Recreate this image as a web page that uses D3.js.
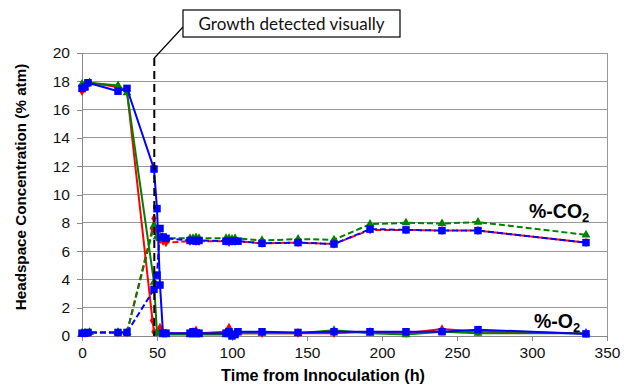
<!DOCTYPE html>
<html><head><meta charset="utf-8">
<script src="https://cdn.jsdelivr.net/npm/d3@7"></script>
<style>body{margin:0;background:#fff;}svg{display:block;}</style>
</head><body><div id="chart"></div>
<script>
// ---- data ----
const xTicks = [0, 50, 100, 150, 200, 250, 300, 350];
const yTicks = [0, 2, 4, 6, 8, 10, 12, 14, 16, 18, 20];

const redT   = [0, 2, 5, 24, 30, 47, 48, 50, 52, 54, 56, 72, 74, 76, 78, 96, 98, 100, 102, 120, 144, 168, 192, 216, 240, 264, 336];
const redO2  = [17.3, 17.5, 17.9, 17.6, 17.3, 1.1, 0.3, 0.3, 0.6, 0.2, 0.2, 0.2, 0.3, 0.4, 0.2, 0.3, 0.6, 0.2, 0.2, 0.2, 0.2, 0.2, 0.3, 0.2, 0.5, 0.3, 0.2];
const redCO2 = [0.2, 0.2, 0.25, 0.25, 0.25, 7.6, 8.3, 7.0, 6.8, 6.7, 6.6, 6.7, 6.8, 6.7, 6.7, 6.7, 6.6, 6.7, 6.7, 6.55, 6.6, 6.5, 7.5, 7.5, 7.45, 7.45, 6.6];

const greenT   = [0, 2, 5, 24, 30, 48, 50, 52, 54, 56, 72, 74, 76, 78, 96, 98, 100, 102, 120, 144, 168, 192, 216, 240, 264, 336];
const greenO2  = [17.8, 17.8, 17.9, 17.7, 17.2, 3.8, 0.2, 0.2, 0.1, 0.1, 0.1, 0.1, 0.1, 0.1, 0.1, 0.1, 0.1, 0.2, 0.2, 0.2, 0.4, 0.2, 0.1, 0.3, 0.2, 0.2];
const greenCO2 = [0.2, 0.2, 0.25, 0.25, 0.25, 7.8, 7.0, 6.9, 6.9, 6.9, 6.9, 6.9, 6.95, 6.9, 6.9, 6.9, 6.85, 6.9, 6.75, 6.85, 6.8, 7.9, 8.0, 7.95, 8.05, 7.15];

const blueT   = [0, 2, 4, 24, 30, 48, 50, 52, 54, 56, 72, 74, 76, 78, 96, 98, 100, 102, 104, 120, 144, 168, 192, 216, 240, 264, 336];
const blueO2  = [17.5, 17.6, 17.9, 17.3, 17.5, 11.8, 9.0, 3.6, 0.2, 0.2, 0.2, 0.3, 0.2, 0.2, 0.2, 0.3, 0.0, 0.1, 0.3, 0.3, 0.25, 0.3, 0.3, 0.3, 0.3, 0.45, 0.15];
const blueCO2 = [0.2, 0.2, 0.25, 0.25, 0.25, 3.3, 4.3, 7.6, 7.0, 6.9, 6.75, 6.75, 6.7, 6.75, 6.7, 6.7, 6.7, 6.7, 6.7, 6.55, 6.6, 6.5, 7.55, 7.5, 7.45, 7.45, 6.6];

const growthTime = 48.2;
const annotationText = "Growth detected visually";

// ---- layout ----
const W = 624, H = 386;
const m = {left: 82, right: 17, top: 53, bottom: 50};
const svg = d3.select("#chart").append("svg").attr("width", W).attr("height", H);

const x = d3.scaleLinear().domain([0, 350]).range([m.left, W - m.right]);
const y = d3.scaleLinear().domain([0, 20]).range([H - m.bottom, m.top]);

// gridlines
svg.append("g").selectAll("line").data(yTicks.filter(d => d > 0)).join("line")
  .attr("x1", x(0)).attr("x2", x(350)).attr("y1", d => y(d)).attr("y2", d => y(d))
  .attr("stroke", "#999").attr("stroke-width", 1).attr("shape-rendering", "crispEdges");
// right border
svg.append("line").attr("x1", x(350)).attr("x2", x(350)).attr("y1", y(20)).attr("y2", y(0))
  .attr("stroke", "#999").attr("shape-rendering", "crispEdges");

// axes
const xAxis = svg.append("g").attr("transform", `translate(0,${y(0)})`)
  .call(d3.axisBottom(x).tickValues(xTicks).tickSize(5).tickPadding(6));
const yAxis = svg.append("g").attr("transform", `translate(${x(0)},0)`)
  .call(d3.axisLeft(y).tickValues(yTicks).tickSize(5).tickPadding(7));
[xAxis, yAxis].forEach(g => {
  g.selectAll("path,line").attr("stroke", "#888").attr("shape-rendering", "crispEdges");
  g.selectAll("text").attr("font-family", "Liberation Sans, Arial, sans-serif").attr("font-size", 15.5).attr("fill", "#111");
});

// titles
svg.append("text").attr("x", 323).attr("y", 381).attr("text-anchor", "middle")
  .attr("font-family", "Liberation Sans, Arial, sans-serif").attr("font-weight", "bold").attr("font-size", 16.2)
  .text("Time from Innoculation (h)");
svg.append("text").attr("transform", "translate(26,187) rotate(-90)").attr("text-anchor", "middle")
  .attr("font-family", "Liberation Sans, Arial, sans-serif").attr("font-weight", "bold").attr("font-size", 15.2)
  .text("Headspace Concentration (% atm)");

// series
const series = [
  {t: redT, v: redO2, color: "#FF0000", dash: null, marker: "diamond"},
  {t: redT, v: redCO2, color: "#FF0000", dash: "6,3", marker: "diamond"},
  {t: greenT, v: greenO2, color: "#008000", dash: null, marker: "triangle"},
  {t: greenT, v: greenCO2, color: "#008000", dash: "6,3", marker: "triangle"},
  {t: blueT, v: blueO2, color: "#0000FF", dash: null, marker: "square"},
  {t: blueT, v: blueCO2, color: "#0000FF", dash: "6,3", marker: "square"}
];
const line = d3.line().x(d => x(d[0])).y(d => y(d[1]));
const sym = {
  diamond: d3.symbol().type(d3.symbolDiamond).size(26),
  triangle: d3.symbol().type(d3.symbolTriangle).size(34),
  square: d3.symbol().type(d3.symbolSquare).size(56)
};
series.forEach(s => {
  const pts = s.t.map((t, i) => [t, s.v[i]]);
  const g = svg.append("g");
  g.append("path").datum(pts).attr("d", line).attr("fill", "none")
    .attr("stroke", s.color).attr("stroke-width", 2).attr("stroke-dasharray", s.dash);
  g.selectAll("path.m").data(pts).join("path").attr("class", "m")
    .attr("transform", d => `translate(${x(d[0])},${y(d[1])})`)
    .attr("d", sym[s.marker]()).attr("fill", s.color);
});

// annotation
const gx = x(growthTime);
svg.append("line").attr("x1", gx).attr("x2", gx).attr("y1", 58).attr("y2", y(0))
  .attr("stroke", "#000").attr("stroke-width", 2).attr("stroke-dasharray", "8,5");
svg.append("line").attr("x1", gx).attr("y1", 58).attr("x2", 183).attr("y2", 27)
  .attr("stroke", "#000").attr("stroke-width", 1.2);
svg.append("rect").attr("x", 183).attr("y", 10).attr("width", 217).attr("height", 27)
  .attr("fill", "#fff").attr("stroke", "#000").attr("stroke-width", 1.2);
svg.append("text").attr("x", 291.5).attr("y", 30).attr("text-anchor", "middle")
  .attr("font-family", "Lato, sans-serif").attr("font-size", 17).attr("fill", "#111")
  .text(annotationText);

// series labels
function subLabel(xp, yp, main, sub) {
  const t = svg.append("text").attr("x", xp).attr("y", yp)
    .attr("font-family", "Liberation Sans, Arial, sans-serif").attr("font-weight", "bold").attr("font-size", 19.5);
  t.append("tspan").text(main);
  t.append("tspan").attr("dy", 4).attr("font-size", 13).text(sub);
}
subLabel(529, 218, "%-CO", "2");
subLabel(534, 328, "%-O", "2");
</script></body></html>
